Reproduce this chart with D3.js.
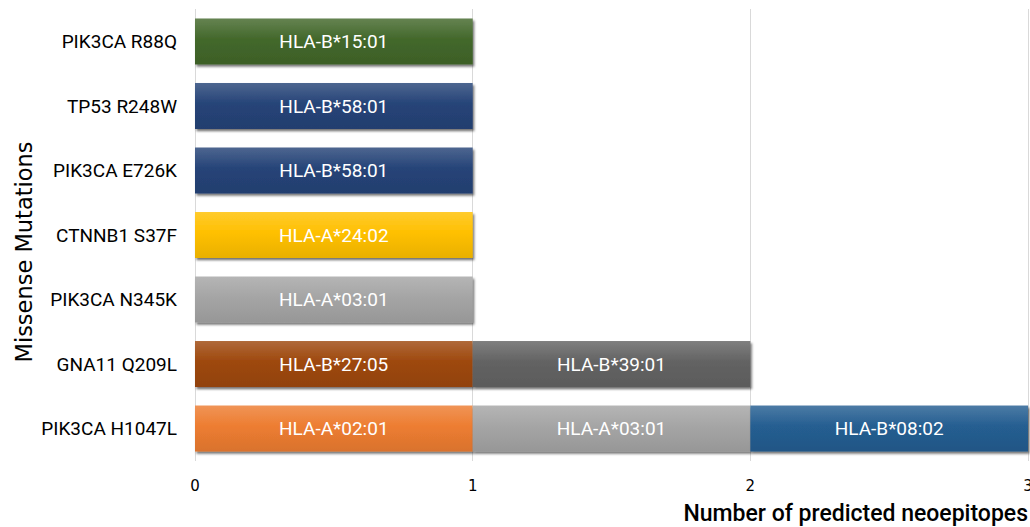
<!DOCTYPE html>
<html>
<head>
<meta charset="utf-8">
<script src="https://cdn.jsdelivr.net/npm/d3@7"></script>
<style>
  html, body { margin: 0; padding: 0; background: #fff; }
  svg { display: block; }
</style>
</head>
<body>
<svg id="chart" width="1030" height="527"></svg>
<script>
// Missense mutations and the HLA alleles predicted to present a neoepitope
const mutations = ["PIK3CA R88Q", "TP53 R248W", "PIK3CA E726K", "CTNNB1 S37F",
                   "PIK3CA N345K", "GNA11 Q209L", "PIK3CA H1047L"];
const allele1 = ["HLA-B*15:01", "HLA-B*58:01", "HLA-B*58:01", "HLA-A*24:02",
                 "HLA-A*03:01", "HLA-B*27:05", "HLA-A*02:01"];
const allele2 = [null, null, null, null, null, "HLA-B*39:01", "HLA-A*03:01"];
const allele3 = [null, null, null, null, null, null, "HLA-B*08:02"];
const count1 = [1, 1, 1, 1, 1, 1, 1];
const count2 = [0, 0, 0, 0, 0, 1, 1];
const count3 = [0, 0, 0, 0, 0, 0, 1];
const xTicks = [0, 1, 2, 3];

// fill colours for each segment
const color1 = ["#43682b", "#264478", "#264478", "#ffc000", "#a5a5a5", "#9e480e", "#ed7d31"];
const color2 = [null, null, null, null, null, "#636363", "#a5a5a5"];
const color3 = [null, null, null, null, null, null, "#255e91"];

const svg = d3.select("#chart");
const x = d3.scaleLinear().domain([0, 3]).range([195, 1028]);
const y = d3.scaleBand().domain(mutations).range([9, 461])
  .paddingInner(0.287).paddingOuter(0.147);

const rows = mutations.map((m, i) => ({
  mutation: m,
  s1: count1[i], s2: count2[i], s3: count3[i],
  a: [allele1[i], allele2[i], allele3[i]],
  c: [color1[i], color2[i], color3[i]]
}));
const stacked = d3.stack().keys(["s1", "s2", "s3"])(rows);

const defs = svg.append("defs");
const shadow = defs.append("filter").attr("id", "shadow")
  .attr("x", "-5%").attr("y", "-20%").attr("width", "115%").attr("height", "160%");
shadow.append("feDropShadow").attr("dx", 1.5).attr("dy", 2.2)
  .attr("stdDeviation", 1.3).attr("flood-color", "#000").attr("flood-opacity", 0.55);

const gradId = col => "g" + col.slice(1);
const allColors = Array.from(new Set([...color1, ...color2, ...color3].filter(Boolean)));
allColors.forEach(col => {
  const g = defs.append("linearGradient").attr("id", gradId(col))
    .attr("x1", 0).attr("y1", 0).attr("x2", 0).attr("y2", 1);
  const base = d3.color(col);
  g.append("stop").attr("offset", "0%").attr("stop-color", d3.interpolateRgb(col, "#fff")(0.18));
  g.append("stop").attr("offset", "45%").attr("stop-color", col);
  g.append("stop").attr("offset", "100%").attr("stop-color", base.darker(0.25).formatHex());
});

// vertical gridlines
svg.append("g").selectAll("line").data(xTicks).join("line")
  .attr("x1", d => x(d)).attr("x2", d => x(d))
  .attr("y1", 9).attr("y2", 461)
  .attr("stroke", "#d9d9d9").attr("stroke-width", 1)
  .attr("shape-rendering", "crispEdges");

// stacked segments
stacked.forEach((layer, li) => {
  const g = svg.append("g");
  const segs = layer.map((d, i) => ({ d, i })).filter(o => o.d[1] - o.d[0] > 0);
  g.selectAll("rect").data(segs).join("rect")
    .attr("x", o => x(o.d[0]))
    .attr("y", o => y(mutations[o.i]))
    .attr("width", o => x(o.d[1]) - x(o.d[0]))
    .attr("height", y.bandwidth())
    .attr("fill", o => `url(#${gradId(rows[o.i].c[li])})`)
    .attr("filter", "url(#shadow)");
  g.selectAll("text").data(segs).join("text")
    .attr("x", o => (x(o.d[0]) + x(o.d[1])) / 2)
    .attr("y", o => y(mutations[o.i]) + y.bandwidth() / 2)
    .attr("dy", "0.36em")
    .attr("text-anchor", "middle")
    .attr("fill", "#fff")
    .attr("font-family", "Roboto, sans-serif")
    .attr("font-size", 19)
    .text(o => rows[o.i].a[li]);
});

// category labels
svg.append("g").selectAll("text").data(mutations).join("text")
  .attr("x", 177)
  .attr("y", d => y(d) + y.bandwidth() / 2)
  .attr("dy", "0.36em")
  .attr("text-anchor", "end")
  .attr("fill", "#000")
  .attr("font-family", "Roboto, sans-serif")
  .attr("font-size", 19)
  .text(d => d);

// x tick labels
svg.append("g").selectAll("text").data(xTicks).join("text")
  .attr("x", d => x(d))
  .attr("y", 486)
  .attr("dy", "0.36em")
  .attr("text-anchor", "middle")
  .attr("fill", "#000")
  .attr("font-family", "DejaVu Sans, sans-serif")
  .attr("font-size", 15)
  .text(d => d);

// axis titles
svg.append("text")
  .attr("x", 1028).attr("y", 521)
  .attr("text-anchor", "end")
  .attr("fill", "#000")
  .attr("font-family", "Roboto, sans-serif")
  .attr("font-weight", 500)
  .attr("font-size", 23)
  .text("Number of predicted neoepitopes");

svg.append("text")
  .attr("transform", "translate(32,252) rotate(-90)")
  .attr("text-anchor", "middle")
  .attr("fill", "#000")
  .attr("font-family", "DejaVu Sans, sans-serif")
  .attr("font-size", 22.5)
  .text("Missense Mutations");
</script>
</body>
</html>
